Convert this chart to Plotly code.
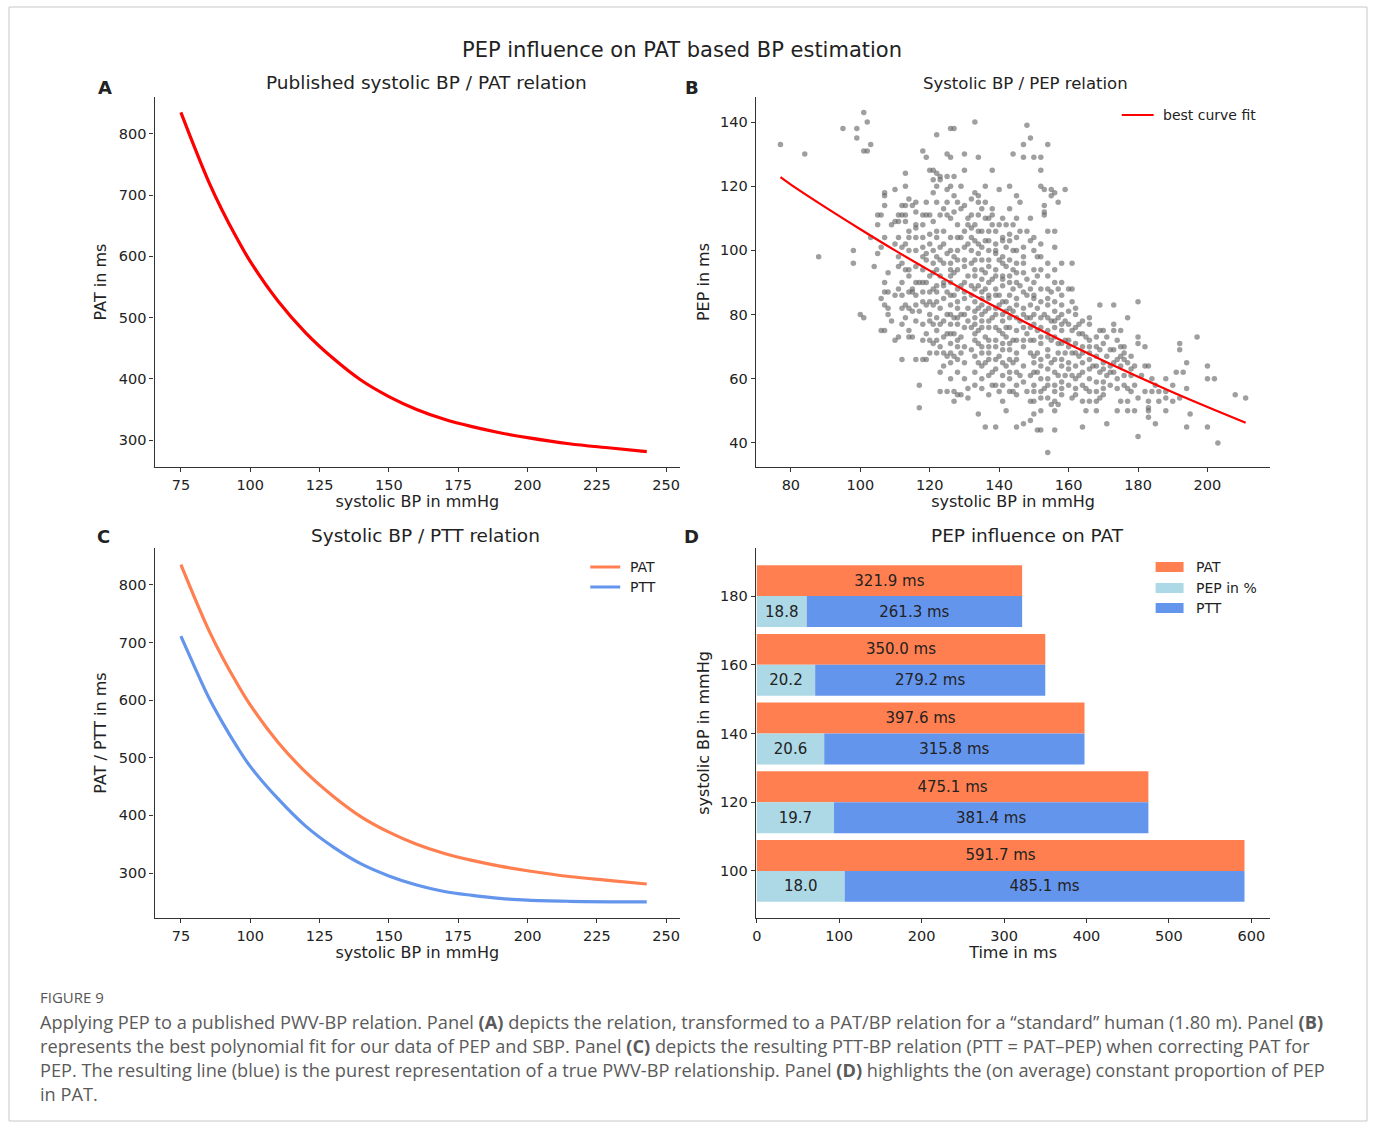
import plotly.graph_objects as go

W, H = 1373, 1124

# ---------------- data ----------------
# Panel A / C curves
sbp_curve = [75, 80, 85, 90, 95, 100, 110, 120, 130, 140, 150, 160, 170, 180, 190, 200, 215, 230, 243]
pat_curve = [835, 777, 722, 674, 631, 591.7, 527, 475.1, 433, 397.6, 371, 350.0, 334, 321.9, 312, 304, 294, 287, 281]
ptt_curve = [711, 657, 605, 561, 521, 485.1, 429, 381.4, 345, 315.8, 295, 279.2, 268, 261.3, 256, 253, 251, 250, 250]

# Panel B fit
sbp_fit = [77, 80, 90, 100, 110, 120, 130, 140, 150, 160, 170, 180, 190, 200, 211]
pep_fit = [122.8, 120.5, 113.4, 106.6, 100.0, 93.7, 87.6, 81.8, 76.2, 70.8, 65.6, 60.6, 55.8, 51.2, 46.3]

# Panel B scatter (SBP mmHg, PEP ms)
pep_points = [
    (77,133),(84,130),(88,98),(95,138),(99,138),(99,135),(101,143),(102,140),(101,131),(102,131),
    (103,133),(98,100),(98,96),(100,80),(101,79),(103,104),(104,95),(105,99),
    (105,111),(106,111),(107,117),(107,118),(107,114),(107,104),(106,101),(108,93),(107,90),(107,87),
    (108,87),(106,85),(107,83),(106,75),(107,75),(108,82),(108,80),(105,108),
    (110,119),(109,108),(110,109),(111,111),(111,109),(112,111),(113,109),(113,111),(112,114),(113,114),
    (113,124),(113,120),(114,116),(115,114),(116,115),(116,112),(116,108),(116,107),(114,106),(114,104),
    (113,102),(112,101),(111,104),(110,102),(111,98),(111,95),(113,94),(114,94),(114,92),(112,90),
    (111,88),(110,86),(112,86),(113,83),(114,82),(115,81),(113,79),(112,77),(114,75),(115,73),
    (114,73),(110,72),(111,73),(109,78),(112,66),(116,66),(117,58),(117,51),(116,90),(116,86),
    (116,83),(115,87),(115,88),
    (118,131),(119,129),(120,125),(121,125),(122,124),(123,123),(125,123),(127,123),(122,120),(126,120),
    (129,120),(121,118),(125,119),(127,117),(119,115),(122,115),(125,115),(128,115),(118,111),(119,111),
    (120,111),(118,108),(121,109),(123,111),(125,111),(127,112),(129,113),(116,104),(118,104),(120,105),
    (122,104),(124,106),(126,104),(128,104),(129,104),(118,101),(119,99),(121,100),(123,101),(125,99),
    (127,98),(119,97),(121,96),(123,97),(126,96),(128,97),(118,94),(121,93),(123,92),(126,92),
    (127,93),(117,90),(119,90),(122,89),(124,89),(126,90),(129,89),(118,87),(120,87),(122,87),
    (125,87),(127,86),(119,83),(121,83),(123,82),(126,83),(128,82),(117,81),(120,80),(122,79),
    (125,80),(127,79),(129,80),(118,77),(121,77),(123,77),(126,77),(128,77),(119,74),(122,75),
    (125,74),(127,74),(129,73),(121,71),(123,70),(126,71),(128,70),(122,68),(125,67),(127,67),
    (129,68),(118,66),(119,66),(123,62),(126,60),(127,56),(129,55),(123,56),(125,56),(127,53),
    (128,55),(131,54),(131,57),(122,136),(126,138),(127,138),(125,130),(126,129),(123,122),(121,122),
    (130,130),(134,129),(133,140),(133,118),(134,117),(136,120),(138,125),(132,116),(134,115),(136,115),
    (138,113),(140,119),(143,120),(145,117),(146,115),(132,111),(134,111),(136,110),(138,111),(140,108),
    (142,108),(144,108),(132,107),(134,106),(137,106),(132,104),(134,102),(136,103),(139,102),(141,103),
    (142,101),(143,105),(145,104),(132,100),(134,99),(137,100),(139,99),(141,98),(144,100),(147,101),
    (132,96),(135,97),(137,95),(140,97),(142,95),(144,94),(147,96),(131,92),(133,92),(136,93),
    (138,91),(141,92),(143,92),(145,93),(148,91),(132,89),(134,89),(136,88),(139,88),(141,89),
    (144,88),(146,89),(132,86),(135,85),(137,85),(140,86),(142,84),(145,85),(148,86),(131,82),
    (134,82),(136,81),(139,82),(142,81),(144,81),(147,82),(133,79),(135,78),(138,79),(141,78),
    (143,79),(146,78),(148,79),(132,76),(134,75),(137,76),(140,75),(142,76),(145,75),(148,74),
    (133,72),(136,73),(139,72),(141,71),(144,72),(147,72),(132,69),(135,68),(137,68),(140,67),
    (143,69),(145,68),(134,65),(136,65),(139,66),(142,64),(144,65),(138,62),(141,61),(143,62),
    (146,61),(135,57),(138,58),(140,56),(143,56),(144,56),(145,58),(137,55),(141,53),(134,49),
    (139,45),(136,45),(142,50),(145,45),(130,125),(144,130),(143,113),(131,108),(138,108),(135,91),
    (139,94),(133,84),(140,83),(137,70),(142,73),(131,78),(134,71),(130,85),(146,106),(130,95),
    (148,139),(149,135),(147,133),(147,129),(150,129),(152,129),(154,133),(152,125),(152,120),(153,119),
    (155,119),(155,117),(159,119),(153,112),(153,111),(154,106),(156,106),(156,101),(149,110),(148,106),
    (149,103),(151,98),(152,98),(150,94),(151,92),(154,92),(156,90),(158,96),(149,88),(152,88),
    (155,87),(157,88),(158,86),(149,83),(151,82),(154,83),(156,81),(158,83),(149,79),(152,79),
    (155,78),(157,79),(159,78),(149,76),(151,75),(154,75),(156,76),(158,75),(149,72),(152,71),
    (155,72),(157,71),(159,72),(149,68),(151,68),(154,67),(157,68),(159,68),(150,65),(152,64),
    (155,65),(158,64),(149,61),(151,62),(154,60),(157,61),(159,61),(148,56),(150,56),(153,57),
    (156,56),(158,57),(149,53),(152,54),(155,52),(157,52),(150,49),(152,50),(156,50),(151,44),
    (152,44),(156,44),(154,37),(147,46),(149,47),(157,115),(153,114),(156,118),(150,85),(153,80),
    (161,96),(161,88),(161,84),(160,81),(162,80),(164,78),(166,77),(163,77),(161,75),(163,74),
    (165,73),(168,73),(169,75),(170,75),(171,73),(162,71),(164,70),(166,70),(169,69),(161,68),
    (163,67),(166,68),(168,67),(171,67),(162,64),(164,65),(167,64),(170,65),(172,64),(161,61),
    (163,61),(166,60),(169,62),(171,61),(162,57),(165,57),(168,56),(170,57),(161,54),(164,53),
    (166,53),(169,54),(165,50),(168,50),(171,46),(164,45),(169,83),(166,79),(173,75),(160,72),
    (173,83),(173,77),(175,75),(177,79),(175,70),(176,70),(178,67),(180,73),(180,84),(180,71),
    (182,70),(173,69),(175,67),(176,68),(173,65),(175,64),(177,65),(179,64),(182,64),(183,64),
    (173,62),(176,61),(178,61),(181,61),(184,60),(185,58),(174,57),(177,57),(179,58),(182,56),
    (184,56),(186,56),(175,53),(177,53),(180,54),(183,53),(186,53),(174,50),(177,50),(179,50),
    (183,50),(180,42),(185,46),(183,48),(183,51),
    (188,60),(188,56),(188,54),(190,58),(191,62),(192,71),(194,65),(193,62),(194,57),(195,49),
    (194,45),(197,73),(200,64),(200,60),(202,60),(200,45),(203,40),(208,55),(211,54),(192,54),
    (190,53),(188,50),(192,69),
]
# additional points read from the dense core of the cloud
pep_points_core = [
    (120,102),(120,92),(120,84),(120,78),(120,72),(120,68),(121,88),(122,98),(122,106),(122,94),
    (122,84),(122,72),(124,113),(124,102),(124,96),(124,90),(124,85),(124,78),(124,73),(124,68),
    (124,64),(126,110),(126,100),(126,94),(126,86),(126,80),(126,74),(126,68),(126,65),(128,108),
    (128,100),(128,94),(128,88),(128,84),(128,79),(128,72),(128,66),(128,62),(130,114),(130,106),
    (130,101),(130,97),(130,90),(130,87),(130,80),(130,76),(130,70),(130,65),(130,60),(131,110),
    (131,102),(133,108),(133,103),(133,97),(133,94),(133,88),(133,81),(133,77),(133,74),(133,67),
    (133,62),(133,58),(135,113),(135,106),(135,101),(135,94),(135,87),(135,83),(135,80),(135,76),
    (135,70),(135,64),(135,60),(137,110),(137,103),(137,97),(137,90),(137,86),(137,82),(137,78),
    (137,72),(137,66),(137,61),(139,106),(139,100),(139,92),(139,86),(139,80),(139,76),(139,70),
    (139,63),(139,58),(141,110),(141,104),(141,96),(141,91),(141,84),(141,80),(141,74),(141,69),
    (141,65),(141,58),(143,103),(143,97),(143,90),(143,86),(143,82),(143,76),(143,71),(143,66),
    (143,60),(145,110),(145,100),(145,96),(145,90),(145,83),(145,79),(145,72),(145,66),(145,62),
    (145,55),(147,98),(147,93),(147,87),(147,80),(147,76),(147,70),(147,64),(147,59),(150,104),
    (150,100),(150,90),(150,86),(150,80),(150,77),(150,72),(150,67),(150,62),(150,58),(150,53),
    (152,102),(152,94),(152,84),(152,76),(152,73),(152,66),(152,60),(152,56),(154,96),(154,88),
    (154,85),(154,79),(154,73),(154,69),(154,63),(154,58),(154,54),(156,94),(156,84),(156,78),
    (156,73),(156,66),(156,62),(156,58),(156,53),(158,90),(158,80),(158,77),(158,71),(158,66),
    (158,59),(158,55),(160,88),(160,77),(160,70),(160,65),(160,63),(160,58),(162,82),(162,76),
    (162,68),(162,60),(162,55),(164,74),(164,68),(164,62),(164,58),(166,72),(166,66),(166,63),
    (166,56),(168,70),(168,64),(168,59),(168,53),(170,71),(170,63),(170,59),(170,55),(172,69),
    (172,62),(172,58),(174,72),(174,66),(174,60),(176,66),(176,58),(178,63),(178,56),(118,98),
    (118,90),(118,84),(118,72),(116,100),(116,95),(116,78),(114,100),(114,87),(112,96),(112,82),
]
sbp_scatter = [p[0] for p in pep_points + pep_points_core]
pep_scatter = [p[1] for p in pep_points + pep_points_core]

# Panel D bars
bar_bp = [100, 120, 140, 160, 180]
bar_pat = [591.7, 475.1, 397.6, 350.0, 321.9]
bar_ptt = [485.1, 381.4, 315.8, 279.2, 261.3]

# Ticks
ticks_bp_ac = [75, 100, 125, 150, 175, 200, 225, 250]
ticks_pat = [300, 400, 500, 600, 700, 800]
ticks_bp_b = [80, 100, 120, 140, 160, 180, 200]
ticks_pep = [40, 60, 80, 100, 120, 140]
ticks_time = [0, 100, 200, 300, 400, 500, 600]
ticks_bp_d = [100, 120, 140, 160, 180]

# ---------------- styling helpers ----------------
FONT = "DejaVu Sans"
CORAL = "#FF7F50"
LBLUE = "#ADD8E6"
CBLUE = "#6495ED"
AXC = "#333333"
TXT = "#222222"


def px(x):
    return x / W


def py(y):
    return 1 - y / H


def axis(domain, rng, tickvals, title, anchor, standoff=6):
    return dict(
        domain=domain, range=rng, tickvals=tickvals, anchor=anchor,
        showline=True, linecolor=AXC, linewidth=1.2, mirror=False,
        showgrid=False, zeroline=False, ticks="outside", ticklen=4,
        tickwidth=1.1, tickcolor=AXC,
        tickfont=dict(family=FONT, size=14.5, color=TXT),
        title=dict(text=title, font=dict(family=FONT, size=16, color=TXT), standoff=standoff),
    )


fig = go.Figure()

# Panel A
fig.add_trace(go.Scatter(x=sbp_curve, y=pat_curve, mode="lines", line=dict(color="red", width=3.2, shape="spline"),
                         xaxis="x", yaxis="y", showlegend=False))
# Panel B
fig.add_trace(go.Scatter(x=sbp_scatter, y=pep_scatter, mode="markers",
                         marker=dict(size=5.5, color="rgba(100,100,100,0.62)", line=dict(width=0)),
                         xaxis="x2", yaxis="y2", showlegend=False))
fig.add_trace(go.Scatter(x=sbp_fit, y=pep_fit, mode="lines", line=dict(color="red", width=2.2, shape="spline"),
                         xaxis="x2", yaxis="y2", showlegend=False))
# Panel C
fig.add_trace(go.Scatter(x=sbp_curve, y=pat_curve, mode="lines", line=dict(color=CORAL, width=3.2, shape="spline"),
                         xaxis="x3", yaxis="y3", showlegend=False))
fig.add_trace(go.Scatter(x=sbp_curve, y=ptt_curve, mode="lines", line=dict(color=CBLUE, width=3.2, shape="spline"),
                         xaxis="x3", yaxis="y3", showlegend=False))

# Panel D
bar_h = 9
pep_ms = [a - b for a, b in zip(bar_pat, bar_ptt)]
pep_pct = [f"{100 * p / a:.1f}" for p, a in zip(pep_ms, bar_pat)]
ylow = [b - bar_h / 2 for b in bar_bp]
yhigh = [b + bar_h / 2 for b in bar_bp]
tf = dict(family=FONT, size=15, color=TXT)
fig.add_trace(go.Bar(y=yhigh, x=bar_pat, orientation="h", width=bar_h, marker=dict(color=CORAL, line=dict(width=0)),
                     text=[f"{v:.1f} ms" for v in bar_pat], textposition="inside", insidetextanchor="middle",
                     textangle=0, textfont=tf, constraintext="none",
                     xaxis="x4", yaxis="y4", showlegend=False))
fig.add_trace(go.Bar(y=ylow, x=pep_ms, orientation="h", width=bar_h, marker=dict(color=LBLUE, line=dict(width=0)),
                     text=pep_pct, textposition="inside", insidetextanchor="middle",
                     textangle=0, textfont=tf, constraintext="none",
                     xaxis="x4", yaxis="y4", showlegend=False))
fig.add_trace(go.Bar(y=ylow, x=bar_ptt, base=pep_ms, orientation="h", width=bar_h,
                     marker=dict(color=CBLUE, line=dict(width=0)),
                     text=[f"{v:.1f} ms" for v in bar_ptt], textposition="inside", insidetextanchor="middle",
                     textangle=0, textfont=tf, constraintext="none",
                     xaxis="x4", yaxis="y4", showlegend=False))

dxl = [px(151), px(678)]
dxr = [px(754), px(1270)]
dyt = [py(467), py(97)]
dyb = [py(918), py(548)]

layout = dict(
    width=W, height=H, margin=dict(l=0, r=0, t=0, b=0),
    paper_bgcolor="white", plot_bgcolor="white", barmode="overlay",
    xaxis=axis(dxl, [65.5, 255], ticks_bp_ac, "systolic BP in mmHg", "y", 2),
    yaxis=axis(dyt, [256, 860], ticks_pat, "PAT in ms", "x", 8),
    xaxis2=axis(dxr, [69.9, 218.1], ticks_bp_b, "systolic BP in mmHg", "y2", 2),
    yaxis2=axis(dyt, [32.5, 147.8], ticks_pep, "PEP in ms", "x2", 6),
    xaxis3=axis(dxl, [65.5, 255], ticks_bp_ac, "systolic BP in mmHg", "y3", 2),
    yaxis3=axis(dyb, [222, 864], ticks_pat, "PAT / PTT in ms", "x3", 8),
    xaxis4=axis(dxr, [-1.2, 623], ticks_time, "Time in ms", "y4", 2),
    yaxis4=axis(dyb, [86.3, 194], ticks_bp_d, "systolic BP in mmHg", "x4", 6),
    font=dict(family=FONT, color=TXT),
)
fig.update_layout(**layout)

ann = []


def text(x, y, s, size, bold=False, xanchor="center", color=TXT, family=FONT):
    ann.append(dict(x=px(x), y=py(y), xref="paper", yref="paper", text=f"<b>{s}</b>" if bold else s,
                    showarrow=False, xanchor=xanchor, yanchor="middle",
                    font=dict(family=family, size=size, color=color)))


text(680, 50, "PEP influence on PAT based BP estimation", 21)
text(424, 83, "Published systolic BP / PAT relation", 18.5)
text(1024, 84, "Systolic BP / PEP relation", 16.5)
text(423, 535, "Systolic BP / PTT relation", 18.5)
text(1026, 535, "PEP influence on PAT", 18.5)
for lx, ly, s in [(101, 87, "A"), (690, 87, "B"), (100, 537, "C"), (690, 537, "D")]:
    text(lx, ly, s, 18, bold=True)

# legends (manual)
shapes = []
shapes.append(dict(type="line", xref="paper", yref="paper", x0=px(1121), x1=px(1153), y0=py(115), y1=py(115),
                   line=dict(color="red", width=2.2)))
text(1160, 115, "best curve fit", 14, xanchor="left")
shapes.append(dict(type="line", xref="paper", yref="paper", x0=px(588), x1=px(618), y0=py(567), y1=py(567),
                   line=dict(color=CORAL, width=3)))
shapes.append(dict(type="line", xref="paper", yref="paper", x0=px(588), x1=px(618), y0=py(587), y1=py(587),
                   line=dict(color=CBLUE, width=3)))
text(626, 567, "PAT", 14, xanchor="left")
text(626, 587, "PTT", 14, xanchor="left")
for yy, col, lab in [(567, CORAL, "PAT"), (588, LBLUE, "PEP in %"), (608, CBLUE, "PTT")]:
    shapes.append(dict(type="rect", xref="paper", yref="paper", x0=px(1155), x1=px(1183), y0=py(yy + 5), y1=py(yy - 5),
                       fillcolor=col, line=dict(width=0)))
    text(1193, yy, lab, 14, xanchor="left")

# frame
shapes.append(dict(type="rect", xref="paper", yref="paper", x0=px(5), x1=px(1367), y0=py(1121), y1=py(7),
                   line=dict(color="#c8c8c8", width=1)))

# caption
CAP = "Open Sans"
text(34, 997, "FIGURE 9", 15, xanchor="left", color="#555555", family=CAP)
cap_lines = [
    "Applying PEP to a published PWV-BP relation. Panel <b>(A)</b> depicts the relation, transformed to a PAT/BP relation for a \u201cstandard\u201d human (1.80 m). Panel <b>(B)</b>",
    "represents the best polynomial fit for our data of PEP and SBP. Panel <b>(C)</b> depicts the resulting PTT-BP relation (PTT = PAT\u2013PEP) when correcting PAT for",
    "PEP. The resulting line (blue) is the purest representation of a true PWV-BP relationship. Panel <b>(D)</b> highlights the (on average) constant proportion of PEP",
    "in PAT.",
]
for i, line in enumerate(cap_lines):
    text(34, 1022 + 24 * i, line, 18.2, xanchor="left", color="#5a5a5a", family=CAP)

fig.update_layout(annotations=ann, shapes=shapes)
fig.write_html("out.html", config={"displayModeBar": False},
               post_script="document.body.style.margin='0';document.body.style.padding='0';document.body.style.overflow='hidden';")
